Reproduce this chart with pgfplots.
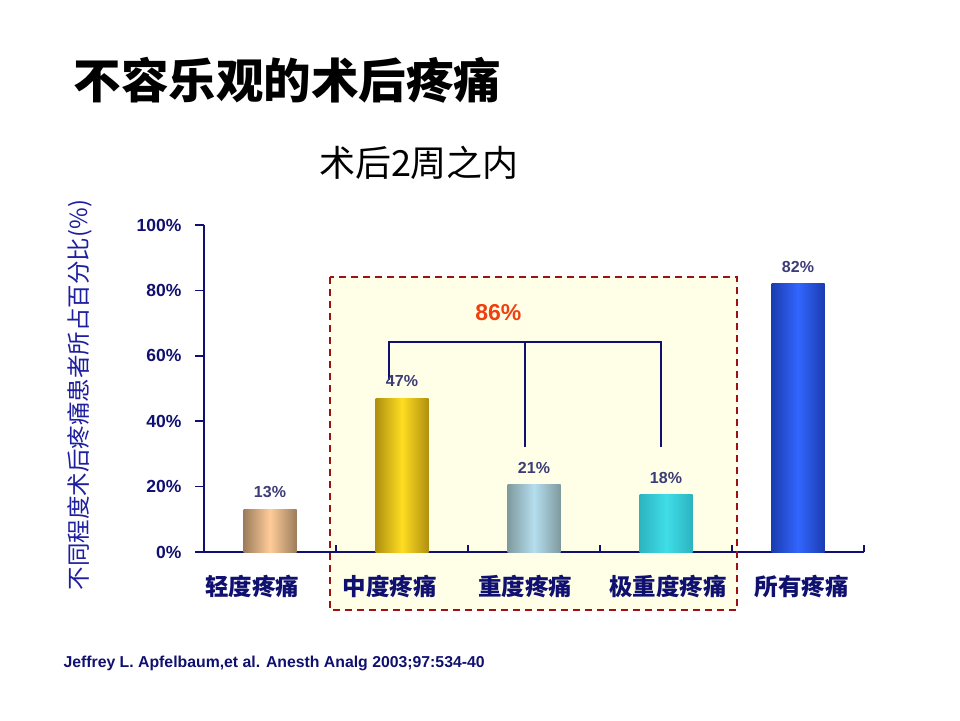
\documentclass[border=0pt]{standalone}
\usepackage{pgfplots}
\pgfplotsset{compat=1.18}
\usepackage{fontspec}
\setmainfont{Liberation Sans}
\newfontfamily\cjk{Noto Sans CJK SC}
\definecolor{navyc}{RGB}{16,16,112}
\definecolor{ylab}{RGB}{30,30,160}
\definecolor{vlab}{RGB}{60,60,120}
\definecolor{boxred}{RGB}{160,16,16}
\definecolor{boxfill}{RGB}{255,255,232}
\definecolor{orangered}{RGB}{240,64,16}
\begin{document}
\begin{tikzpicture}
\path[use as bounding box, fill=white] (0,0) rectangle (960pt,-720pt);
\fill[boxfill] (330pt,-277pt) rectangle (737pt,-610pt);
\node[anchor=west, font=\cjk\bfseries\fontsize{47.5}{52}\selectfont, text=black] at (70pt,-80pt) {不容乐观的术后疼痛};
\node[font=\cjk\fontsize{36}{40}\selectfont, text=black] at (419pt,-163pt) {术后2周之内};
\node[rotate=90, font=\cjk\fontsize{23.5}{26}\selectfont, text=ylab] at (80pt,-395pt) {不同程度术后疼痛患者所占百分比(\%)};
\node[anchor=west, font=\bfseries\fontsize{15.8}{18}\selectfont, text=navyc] at (60pt,-663pt) {Jeffrey L. Apfelbaum,et al. Anesth Analg 2003;97:534-40};
\begin{axis}[
  scale only axis, width=660pt, height=327pt,
  at={(204pt,-552pt)}, anchor=south west,
  xmin=0, xmax=5, ymin=0, ymax=100,
  clip=false,
  axis lines*=left,
  axis line style={navyc, line width=2pt},
  ytick={0,20,40,60,80,100},
  yticklabels={0\%,20\%,40\%,60\%,80\%,100\%},
  yticklabel style={font=\bfseries\fontsize{17.5}{20}\selectfont, text=navyc, xshift=-10pt},
  y tick style={navyc, line width=1.5pt},
  tick align=outside,
  major tick length=9pt,
  xtick={0.364,1.409,2.432,3.515,4.530},
  xticklabels={轻度疼痛,中度疼痛,重度疼痛,极重度疼痛,所有疼痛},
  xticklabel style={font=\cjk\bfseries\fontsize{23.5}{26}\selectfont, text=navyc, anchor=center, yshift=-25pt},
  x tick style={draw=none},
  every node near coord/.append style={anchor=center, yshift=17pt, font=\bfseries\fontsize{16}{18}\selectfont, text=vlab},
]
\addplot[ybar, bar width=53pt, bar shift=0pt, draw=none, left color={rgb,255:red,156;green,124;blue,92}, right color={rgb,255:red,156;green,124;blue,92}, middle color={rgb,255:red,255;green,204;blue,153}, nodes near coords={13\%}] coordinates {(0.5,13)};
\addplot[ybar, bar width=53pt, bar shift=0pt, draw=none, left color={rgb,255:red,176;green,144;blue,16}, right color={rgb,255:red,176;green,144;blue,16}, middle color={rgb,255:red,255;green,221;blue,34}, nodes near coords={47\%}] coordinates {(1.5,47)};
\addplot[ybar, bar width=53pt, bar shift=0pt, draw=none, left color={rgb,255:red,127;green,154;blue,158}, right color={rgb,255:red,127;green,154;blue,158}, middle color={rgb,255:red,181;green,222;blue,238}, nodes near coords={21\%}] coordinates {(2.5,20.5)};
\addplot[ybar, bar width=53pt, bar shift=0pt, draw=none, left color={rgb,255:red,44;green,180;blue,192}, right color={rgb,255:red,44;green,180;blue,192}, middle color={rgb,255:red,64;green,221;blue,232}, nodes near coords={18\%}] coordinates {(3.5,17.5)};
\addplot[ybar, bar width=53pt, bar shift=0pt, draw=none, left color={rgb,255:red,26;green,60;blue,176}, right color={rgb,255:red,26;green,60;blue,176}, middle color={rgb,255:red,51;green,102;blue,255}, nodes near coords={82\%}] coordinates {(4.5,82)};
\foreach \t in {1,2,3,4,5} {
  \edef\temp{\noexpand\draw[navyc, line width=1.5pt] (axis cs:\t,0) -- ++(0,7pt);}
  \temp
}
\draw[navyc, line width=2pt] (axis cs:1.40,52.6) -- (axis cs:1.40,64.3) -- (axis cs:3.46,64.3) -- (axis cs:3.46,32.0);
\draw[navyc, line width=2pt] (axis cs:2.43,64.3) -- (axis cs:2.43,32.0);
\node[font=\bfseries\fontsize{23}{26}\selectfont, text=orangered] at (axis cs:2.23,73.1) {86\%};
\end{axis}
\draw[boxred, line width=1.6pt, dash pattern=on 7pt off 5pt] (330pt,-277pt) rectangle (737pt,-610pt);
\end{tikzpicture}
\end{document}
